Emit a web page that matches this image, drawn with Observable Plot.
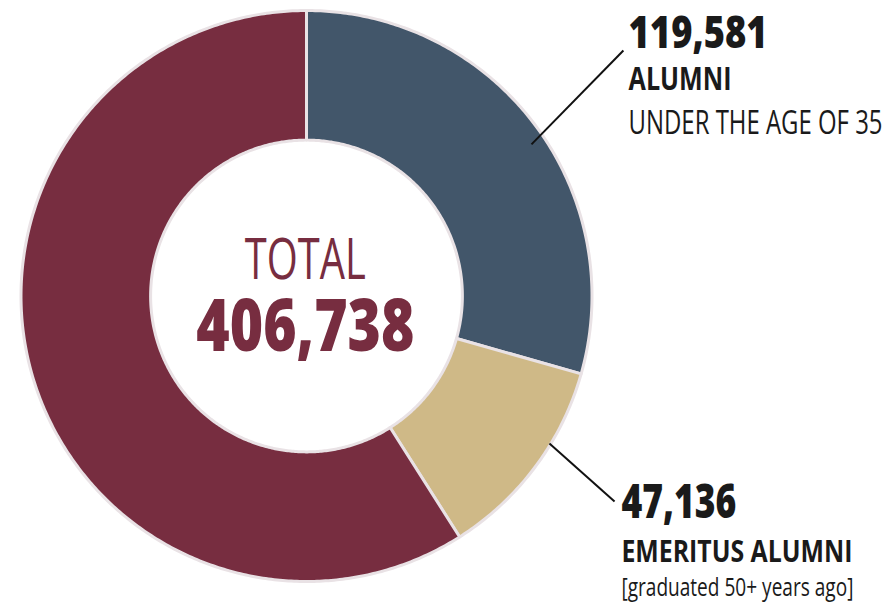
<!DOCTYPE html>
<html><head><meta charset="utf-8">
<script src="https://cdn.jsdelivr.net/npm/d3@7"></script>
<script src="https://cdn.jsdelivr.net/npm/@observablehq/plot@0.6"></script>
<style>body{margin:0;background:#fff;} #chart svg{display:block;}</style>
</head><body><div id="chart"></div>
<script>
// ---- data ----
const categories = ["Alumni under the age of 35", "Emeritus alumni", "Other alumni"];
const values = [119581, 47136, 240021];
const totalValue = 406738;
const colors = ["#42566a", "#cfb987", "#772d40"];
const numberLabels = ["119,581", "47,136"];
const titleLabels = ["ALUMNI", "EMERITUS ALUMNI"];
const subLabels = ["UNDER THE AGE OF 35", "[graduated 50+ years ago]"];
const centerLabels = ["TOTAL", "406,738"];

// ---- geometry (unit circle) ----
const innerRatio = 0.546;
const pie = d3.pie().sort(null).value(d => d)(values);
const ring = [];
pie.forEach((p, i) => {
  const pts = [];
  const n = Math.max(8, Math.ceil((p.endAngle - p.startAngle) / 0.01));
  for (let k = 0; k <= n; k++) {
    const a = p.startAngle + (p.endAngle - p.startAngle) * k / n;
    pts.push({cat: categories[i], x: Math.sin(a), y: Math.cos(a)});
  }
  for (let k = n; k >= 0; k--) {
    const a = p.startAngle + (p.endAngle - p.startAngle) * k / n;
    pts.push({cat: categories[i], x: innerRatio * Math.sin(a), y: innerRatio * Math.cos(a)});
  }
  pts.push({...pts[0]});
  ring.push(...pts);
});

// label layout (unit-circle coordinates)
const topX = 1.128, botX = 1.103;
const labels = [
  {x: topX, y: 0.870, text: numberLabels[0], size: 45, weight: 800, w: 139},
  {x: topX, y: 0.720, text: titleLabels[0], size: 32, weight: 700, w: 103},
  {x: topX, y: 0.569, text: subLabels[0], size: 32, weight: 500, w: 254},
  {x: botX, y: -0.776, text: numberLabels[1], size: 48, weight: 800, w: 115},
  {x: botX, y: -0.930, text: titleLabels[1], size: 30, weight: 700, w: 231},
  {x: botX, y: -1.052, text: subLabels[1], size: 25, weight: 500, w: 232}
];
const center = [
  {x: -0.004, y: 0.058, text: centerLabels[0], size: 56, weight: 500, w: 121},
  {x: -0.004, y: -0.194, text: centerLabels[1], size: 72, weight: 800, w: 218}
];
const leaders = [
  {x1: 0.788, y1: 0.531, x2: 1.110, y2: 0.860},
  {x1: 0.851, y1: -0.517, x2: 1.079, y2: -0.720}
];

const textMarks = (arr, opts) => arr.map(d => Plot.text([d], {
  x: "x", y: "y", text: "text", fontSize: d.size, fontWeight: d.weight,
  lineAnchor: "bottom", ...opts
}));

const chart = Plot.plot({
  width: 888, height: 603,
  margin: 0,
  style: {fontFamily: "'Open Sans', sans-serif", background: "#fff", overflow: "visible"},
  x: {domain: [-1, 1], range: [20.5, 591.5], axis: null},
  y: {domain: [-1, 1], range: [581, 10], axis: null},
  color: {domain: categories, range: colors},
  marks: [
    Plot.line(ring, {x: "x", y: "y", z: "cat", fill: "cat", stroke: "#e9e2e5", strokeWidth: 3, strokeLinejoin: "round"}),
    Plot.link(leaders, {x1: "x1", y1: "y1", x2: "x2", y2: "y2", stroke: "#111", strokeWidth: 2}),
    ...textMarks(labels, {textAnchor: "start", fill: "#1a1a1a"}),
    ...textMarks(center, {textAnchor: "middle", fill: "#772d40"})
  ]
});

const widths = new Map([...labels, ...center].map(d => [d.text, d.w]));
d3.select(chart).selectAll("text").each(function() {
  const w = widths.get(this.textContent);
  if (w) { this.setAttribute("textLength", w); this.setAttribute("lengthAdjust", "spacingAndGlyphs"); }
});
document.getElementById("chart").appendChild(chart);
</script>
</body></html>
